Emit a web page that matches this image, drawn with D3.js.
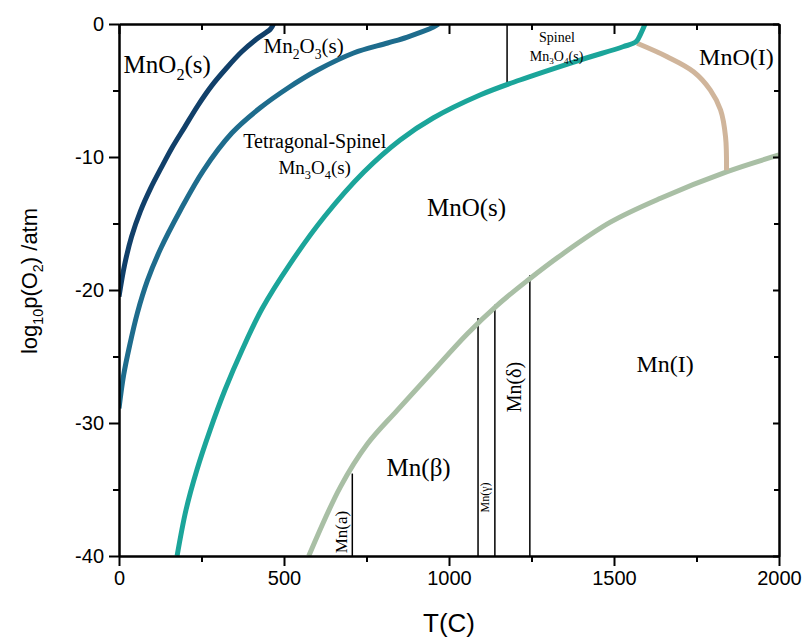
<!DOCTYPE html>
<html>
<head>
<meta charset="utf-8">
<script src="https://cdn.jsdelivr.net/npm/d3@7"></script>
<style>
  body { margin: 0; background: #fff; }
  svg { display: block; }
</style>
</head>
<body>
<div id="chart"></div>
<script>
// phase boundaries, T in C and log10 p(O2) in atm
var mno2T = [0, 17, 38, 65, 96, 129, 162, 199, 238, 280, 326, 371, 417, 459, 468]
var mno2P = [-20.5, -18.1, -16.0, -14.07, -12.34, -10.76, -9.25, -7.75, -6.17, -4.67, -3.31, -2.11, -1.13, -0.38, 0]

var mn2o3T = [0, 14, 32, 56, 86, 126, 186, 256, 342, 427, 512, 602, 711, 814, 874, 953, 968]
var mn2o3P = [-28.9, -26.4, -24.2, -21.7, -19.3, -16.9, -14.0, -11.0, -8.2, -6.32, -4.81, -3.46, -2.18, -1.43, -0.98, -0.23, 0]

var mn3o4T = [176, 203, 236, 276, 321, 373, 433, 518, 624, 742, 852, 952, 1094, 1215, 1397, 1527, 1567, 1582, 1594]
var mn3o4P = [-40, -36.54, -33.53, -30.53, -27.52, -24.51, -21.43, -18.05, -14.44, -11.13, -8.72, -7.07, -5.34, -4.21, -2.71, -1.71, -1.33, -0.68, 0]

var meltT = [1570, 1661, 1741, 1792, 1823, 1838, 1841]
var meltP = [-1.45, -2.46, -3.59, -4.97, -6.47, -8.48, -11.0]

var mnT = [575, 671, 752, 843, 944, 1055, 1146, 1237, 1338, 1489, 1641, 1843, 2000]
var mnP = [-40, -34.8, -31.6, -29.05, -26.3, -23.3, -21.15, -19.3, -17.4, -14.9, -13.1, -11.1, -9.85]

// vertical transition lines: temperature, top end, bottom end
var vlineT = [707, 1088, 1139, 1245, 1176]
var vlineTop = [-33.8, -22.1, -21.1, -18.9, 0]
var vlineBottom = [-40, -40, -40, -40, -4.5]

var xMajor = [0, 500, 1000, 1500, 2000]
var xMinor = [250, 750, 1250, 1750]
var yMajor = [0, -10, -20, -30, -40]
var yMinor = [-5, -15, -25, -35]

var width = 805
var height = 637
var margin = {top: 24, left: 119}
var w = 660
var h = 532

var svg = d3.select('#chart').append('svg')
  .attr('width', width).attr('height', height)

var x = d3.scaleLinear().domain([0, 2000]).range([0, w])
var y = d3.scaleLinear().domain([-40, 0]).range([h, 0])

var g = svg.append('g').attr('transform', `translate(${margin.left},${margin.top})`)

g.append('clipPath').attr('id', 'clip')
  .append('rect').attr('width', w).attr('height', h)

var plot = g.append('g').attr('clip-path', 'url(#clip)')

// vertical black lines
plot.selectAll('line.v').data(d3.range(vlineT.length)).join('line')
  .attr('class', 'v')
  .attr('x1', i => x(vlineT[i])).attr('x2', i => x(vlineT[i]))
  .attr('y1', i => y(vlineTop[i])).attr('y2', i => y(vlineBottom[i]))
  .attr('stroke', '#000').attr('stroke-width', 1.5)

var line = d3.line()
  .x(d => x(d[0])).y(d => y(d[1]))
  .curve(d3.curveCatmullRom.alpha(0.5))

var curves = [
  {T: mnT, P: mnP, color: '#a9bfa5'},
  {T: meltT, P: meltP, color: '#d0b59b'},
  {T: mn3o4T, P: mn3o4P, color: '#1ba59a'},
  {T: mn2o3T, P: mn2o3P, color: '#1e6c8d'},
  {T: mno2T, P: mno2P, color: '#11406a'}
]

plot.selectAll('path.c').data(curves).join('path')
  .attr('class', 'c')
  .attr('d', d => line(d3.zip(d.T, d.P)))
  .attr('fill', 'none')
  .attr('stroke', d => d.color)
  .attr('stroke-width', 5)
  .attr('stroke-linejoin', 'round')

// axes
function styleAxis(sel) {
  sel.selectAll('.domain').attr('stroke', '#000').attr('stroke-width', 2)
  sel.selectAll('.tick line').attr('stroke', '#000').attr('stroke-width', 2)
  sel.selectAll('.tick text')
    .attr('fill', '#000')
    .style('font-family', '"Liberation Sans", Arial, sans-serif')
    .style('font-size', '20px')
}
var fmt = d => String(d)

g.append('g').attr('transform', `translate(0,${h})`)
  .call(d3.axisBottom(x).tickValues(xMajor).tickFormat(fmt).tickSize(10).tickSizeOuter(0).tickPadding(5))
  .call(styleAxis)
g.append('g').attr('transform', `translate(0,${h})`)
  .call(d3.axisBottom(x).tickValues(xMinor).tickFormat('').tickSize(6).tickSizeOuter(0))
  .call(styleAxis)

g.append('g')
  .call(d3.axisLeft(y).tickValues(yMajor).tickFormat(fmt).tickSize(10).tickSizeOuter(0).tickPadding(5))
  .call(styleAxis)
g.append('g')
  .call(d3.axisLeft(y).tickValues(yMinor).tickFormat('').tickSize(6).tickSizeOuter(0))
  .call(styleAxis)

g.append('g')
  .call(d3.axisTop(x).tickValues(xMajor).tickFormat('').tickSize(-10).tickSizeOuter(0))
  .call(styleAxis)
g.append('g')
  .call(d3.axisTop(x).tickValues(xMinor).tickFormat('').tickSize(-6).tickSizeOuter(0))
  .call(styleAxis)

g.append('g').attr('transform', `translate(${w},0)`)
  .call(d3.axisRight(y).tickValues(yMajor).tickFormat('').tickSize(-6).tickSizeOuter(0))
  .call(styleAxis)
g.append('g').attr('transform', `translate(${w},0)`)
  .call(d3.axisRight(y).tickValues(yMinor).tickFormat('').tickSize(-5).tickSizeOuter(0))
  .call(styleAxis)

// text with subscripts: parts starting with '_' are subscripts
function rich(sel, parts, size) {
  var sub = size * 0.65
  var shift = size * 0.28
  parts.forEach((p, i) => {
    var isSub = p[0] === '_'
    var prevSub = i > 0 && parts[i - 1][0] === '_'
    var t = sel.append('tspan').text(isSub ? p.slice(1) : p)
    if (isSub) t.attr('font-size', sub).attr('dy', shift)
    else if (prevSub) t.attr('dy', -shift)
  })
}

// region labels, positions in data units
var labels = [
  {parts: ['MnO', '_2', '(s)'], T: 14, P: -3.7, size: 25, anchor: 'start'},
  {parts: ['Mn', '_2', 'O', '_3', '(s)'], T: 438, P: -2.2, size: 21, anchor: 'start'},
  {parts: ['Tetragonal-Spinel'], T: 593, P: -9.35, size: 20, anchor: 'middle'},
  {parts: ['Mn', '_3', 'O', '_4', '(s)'], T: 593, P: -11.25, size: 19, anchor: 'middle'},
  {parts: ['Spinel'], T: 1327, P: -1.35, size: 14, anchor: 'middle'},
  {parts: ['Mn', '_3', 'O', '_4', '(s)'], T: 1326, P: -2.75, size: 14, anchor: 'middle'},
  {parts: ['MnO(s)'], T: 1053, P: -14.45, size: 25, anchor: 'middle'},
  {parts: ['MnO(I)'], T: 1871, P: -3.1, size: 24, anchor: 'middle'},
  {parts: ['Mn(β)'], T: 908, P: -33.95, size: 25, anchor: 'middle'},
  {parts: ['Mn(I)'], T: 1655, P: -26.2, size: 24, anchor: 'middle'},
  {parts: ['Mn(δ)'], T: 1217, P: -27.3, size: 20, anchor: 'middle', rotate: true},
  {parts: ['Mn(γ)'], T: 1122, P: -35.6, size: 12, anchor: 'middle', rotate: true},
  {parts: ['Mn(a)'], T: 692, P: -38.2, size: 17, anchor: 'middle', rotate: true}
]

labels.forEach(d => {
  var t = g.append('text')
    .attr('transform', `translate(${x(d.T)},${y(d.P)})` + (d.rotate ? ' rotate(-90)' : ''))
    .attr('text-anchor', d.anchor)
    .attr('fill', '#000')
    .style('font-family', '"Liberation Serif", "Times New Roman", serif')
    .style('font-size', d.size + 'px')
  rich(t, d.parts, d.size)
})

// axis titles
svg.append('text')
  .attr('transform', `translate(${margin.left + w / 2},${632})`)
  .attr('text-anchor', 'middle')
  .style('font-family', '"Liberation Sans", Arial, sans-serif')
  .style('font-size', '26px')
  .text('T(C)')

var yt = svg.append('text')
  .attr('transform', 'translate(37,281) rotate(-90)')
  .attr('text-anchor', 'middle')
  .style('font-family', '"Liberation Sans", Arial, sans-serif')
  .style('font-size', '22px')
rich(yt, ['log', '_10', 'p(O', '_2', ') /atm'], 22)
</script>
</body>
</html>
